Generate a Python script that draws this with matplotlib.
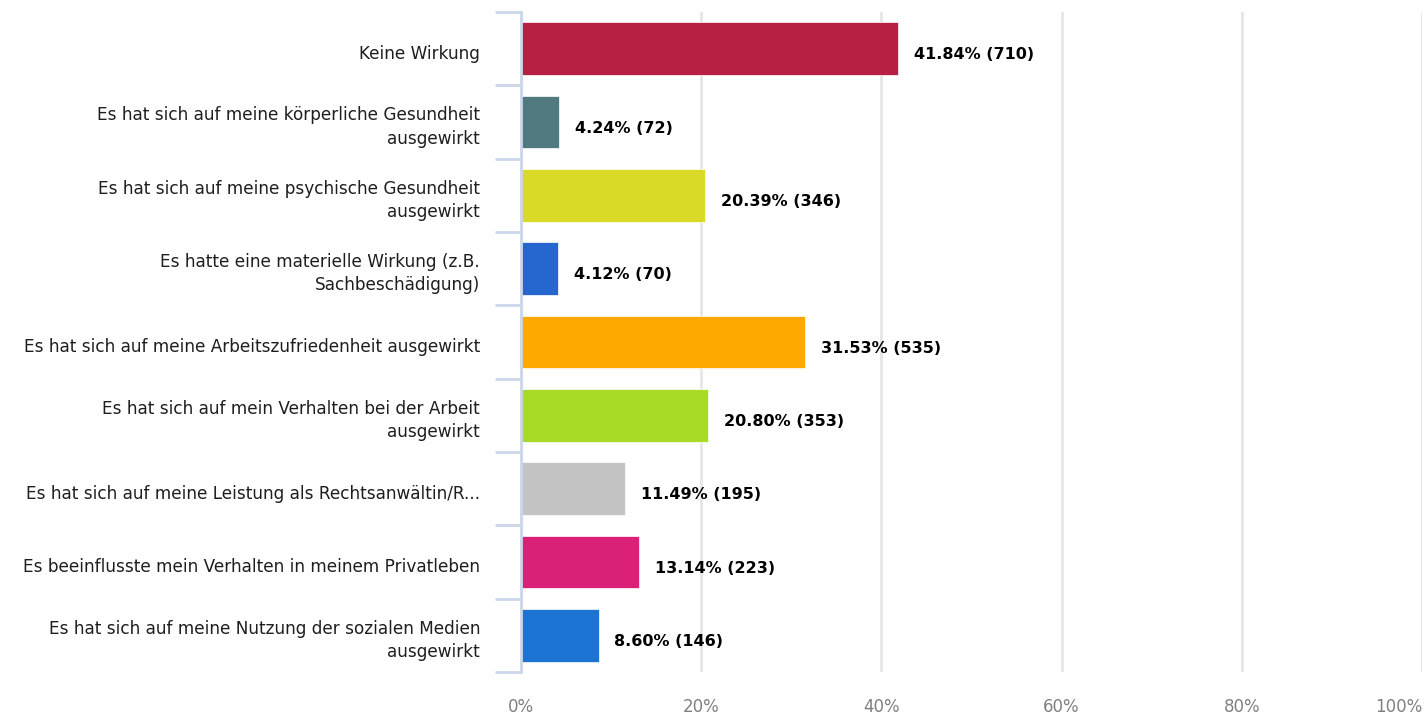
import matplotlib
matplotlib.use("Agg")
import matplotlib.pyplot as plt
from matplotlib.ticker import FixedLocator
from matplotlib.transforms import offset_copy

categories = [
    "Keine Wirkung",
    "Es hat sich auf meine körperliche Gesundheit\nausgewirkt",
    "Es hat sich auf meine psychische Gesundheit\nausgewirkt",
    "Es hatte eine materielle Wirkung (z.B.\nSachbeschädigung)",
    "Es hat sich auf meine Arbeitszufriedenheit ausgewirkt",
    "Es hat sich auf mein Verhalten bei der Arbeit\nausgewirkt",
    "Es hat sich auf meine Leistung als Rechtsanwältin/R...",
    "Es beeinflusste mein Verhalten in meinem Privatleben",
    "Es hat sich auf meine Nutzung der sozialen Medien\nausgewirkt",
]
percents = [41.84, 4.24, 20.39, 4.12, 31.53, 20.80, 11.49, 13.14, 8.60]
counts = [710, 72, 346, 70, 535, 353, 195, 223, 146]
colors = ["#b82043", "#507a80", "#d9da27", "#2567cf", "#fea800",
          "#a8db25", "#c4c4c4", "#db2077", "#1b74d4"]
xticks = [0, 20, 40, 60, 80, 100]

axis_col = "#ccd6eb"

fig = plt.figure(figsize=(14.24, 7.14), dpi=100)
ax = fig.add_axes([0.3659, 0.0588, 0.9986 - 0.3659, 0.9832 - 0.0588])

ypos = list(range(len(categories)))
ax.barh(ypos, percents, height=0.72, color=colors, edgecolor="white",
        linewidth=0.5, zorder=3)

for y, p, c in zip(ypos, percents, counts):
    ax.annotate(f"{p:.2f}% ({c})", xy=(p, y), xytext=(11.5, -4.5),
                textcoords="offset points", ha="left", va="center",
                fontsize=11.5, fontweight="bold", color="black", zorder=4)

ax.set_xlim(0, 100)
ax.set_ylim(len(categories) - 0.5, -0.5)

ax.set_xticks(xticks)
ax.set_xticklabels([f"{t}%" for t in xticks], color="#808080", fontsize=12)
ax.get_xticklabels()[-1].set_horizontalalignment("right")
ax.tick_params(axis="x", length=0, pad=19)
ax.grid(axis="x", color="#e6e6e6", linewidth=2, zorder=0)

# category labels drawn by hand, right-aligned left of the axis line
ax.set_yticks(ypos)
ax.set_yticklabels([])
ax.tick_params(axis="y", which="major", length=0)
ytrans = ax.get_yaxis_transform()
label_tr = offset_copy(ytrans, fig=fig, x=-29.5, y=-3.6, units="points")
for y, cat in zip(ypos, categories):
    ax.text(0, y, cat, transform=label_tr, ha="right", va="center",
            fontsize=12.2, color="#1e1e1e", linespacing=1.37)

ax.yaxis.set_minor_locator(FixedLocator([i - 0.5 for i in range(len(categories) + 1)]))
ax.tick_params(axis="y", which="minor", length=19, width=2, color=axis_col)

for side in ["top", "right", "bottom"]:
    ax.spines[side].set_visible(False)
ax.spines["left"].set_color(axis_col)
ax.spines["left"].set_linewidth(2)
ax.spines["left"].set_zorder(5)

fig.savefig("out.png", dpi=100)
